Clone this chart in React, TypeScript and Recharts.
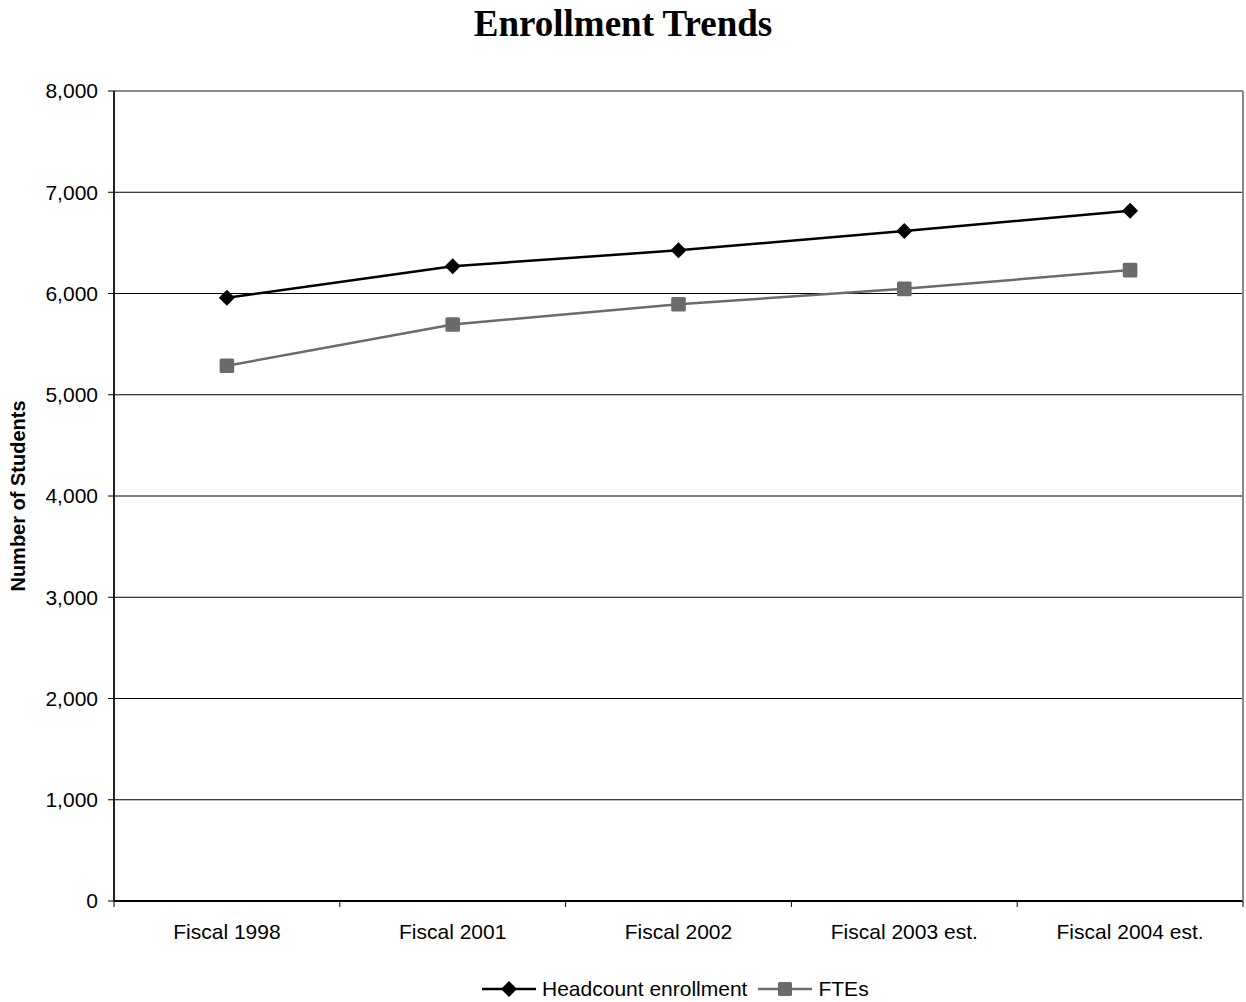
import { CartesianGrid, Label, Line, LineChart, ReferenceLine, XAxis, YAxis } from "recharts";

const categories = ["Fiscal 1998", "Fiscal 2001", "Fiscal 2002", "Fiscal 2003 est.", "Fiscal 2004 est."];
const headcount = [5957, 6270, 6426, 6617, 6818];
const ftes = [5286, 5694, 5894, 6046, 6231];
const yTicks = [0, 1000, 2000, 3000, 4000, 5000, 6000, 7000, 8000];

const data = categories.map((name, i) => ({ name, headcount: headcount[i], ftes: ftes[i] }));

const WIDTH = 1246;
const HEIGHT = 1002;
const MARGIN = { top: 91, right: 0, bottom: 0, left: 0 };
const Y_AXIS_W = 114;
const BORDER_W = 3;
const PLOT_W = WIDTH - MARGIN.left - MARGIN.right - Y_AXIS_W - BORDER_W;
const BAND = PLOT_W / categories.length;

const SANS = "'Liberation Sans', Arial, sans-serif";
const GRAY = "#6b6b6b";

// category labels sit mid-band, tick marks sit on the band edges
function CategoryTick(props: any) {
  const { x, y, payload, index } = props;
  const left = x - BAND / 2;
  const right = x + BAND / 2;
  return (
    <g>
      <line x1={left} y1={y} x2={left} y2={y + 6} stroke="#000" />
      {index === categories.length - 1 && <line x1={right} y1={y} x2={right} y2={y + 6} stroke="#000" />}
      <text x={x} y={y + 38} textAnchor="middle" fontSize={21} fontFamily={SANS} fill="#000">
        {payload.value}
      </text>
    </g>
  );
}

function DiamondDot(props: any) {
  const { cx, cy, index } = props;
  const r = 8;
  return <path key={`d-${index}`} d={`M${cx},${cy - r}L${cx + r},${cy}L${cx},${cy + r}L${cx - r},${cy}Z`} fill="#000" />;
}

function SquareDot(props: any) {
  const { cx, cy, index } = props;
  const r = 7.3;
  return <rect key={`s-${index}`} x={cx - r} y={cy - r} width={r * 2} height={r * 2} rx={1.5} fill={GRAY} />;
}

function LegendIcon({ color, shape }: { color: string; shape: "diamond" | "square" }) {
  return (
    <svg width={54} height={20} style={{ display: "block" }}>
      <line x1={0} y1={10} x2={54} y2={10} stroke={color} strokeWidth={2.5} />
      {shape === "diamond" ? (
        <path d="M27,2L35,10L27,18L19,10Z" fill={color} />
      ) : (
        <rect x={20} y={3} width={14} height={14} rx={1.5} fill={color} />
      )}
    </svg>
  );
}

export default function App() {
  return (
    <div style={{ position: "relative", width: WIDTH, height: HEIGHT, background: "#fff" }}>
      <style>{`body{margin:0}`}</style>
      <div
        style={{
          position: "absolute",
          top: 4,
          left: 0,
          width: WIDTH,
          textAlign: "center",
          fontFamily: "'Liberation Serif', 'Times New Roman', serif",
          fontWeight: "bold",
          fontSize: 37,
          lineHeight: "40px",
        }}
      >
        Enrollment Trends
      </div>
      <LineChart width={WIDTH} height={HEIGHT} data={data} margin={MARGIN}>
        <CartesianGrid vertical={false} stroke="#000" strokeWidth={1} />
        <XAxis
          dataKey="name"
          scale="band"
          height={HEIGHT - MARGIN.top - 810}
          tickSize={0}
          tickMargin={0}
          tickLine={false}
          axisLine={{ stroke: "#000", strokeWidth: 2 }}
          tick={<CategoryTick />}
          interval={0}
        />
        <YAxis
          width={Y_AXIS_W}
          domain={[0, 8000]}
          ticks={yTicks}
          tickFormatter={(v: number) => v.toLocaleString("en-US")}
          tickSize={6}
          tickMargin={10}
          tickLine={{ stroke: "#000" }}
          axisLine={{ stroke: "#222", strokeWidth: 2 }}
          tick={{ fontSize: 21, fontFamily: SANS, fill: "#000" }}
        >
          <Label
            content={({ viewBox }: any) => {
              const cx = viewBox.x + 18;
              const cy = viewBox.y + viewBox.height / 2;
              return (
                <text
                  x={cx}
                  y={cy}
                  transform={`rotate(-90 ${cx} ${cy})`}
                  textAnchor="middle"
                  dominantBaseline="central"
                  fontSize={20}
                  fontWeight="bold"
                  fontFamily={SANS}
                  fill="#000"
                >
                  Number of Students
                </text>
              );
            }}
          />
        </YAxis>
        <YAxis yAxisId="border" orientation="right" width={BORDER_W} tick={false} tickLine={false} axisLine={{ stroke: "#888", strokeWidth: 2 }} />
        <ReferenceLine y={8000} stroke="#888" strokeWidth={2} />
        <Line dataKey="headcount" stroke="#000" strokeWidth={2.5} dot={DiamondDot} activeDot={false} isAnimationActive={false} />
        <Line dataKey="ftes" stroke={GRAY} strokeWidth={2.5} dot={SquareDot} activeDot={false} isAnimationActive={false} />
      </LineChart>
      <div
        style={{
          position: "absolute",
          left: 482,
          top: 978,
          display: "flex",
          alignItems: "center",
          fontFamily: SANS,
          fontSize: 21,
          lineHeight: "22px",
        }}
      >
        <LegendIcon color="#000" shape="diamond" />
        <span style={{ marginLeft: 6 }}>Headcount enrollment</span>
        <span style={{ marginLeft: 11 }} />
        <LegendIcon color={GRAY} shape="square" />
        <span style={{ marginLeft: 6 }}>FTEs</span>
      </div>
    </div>
  );
}
